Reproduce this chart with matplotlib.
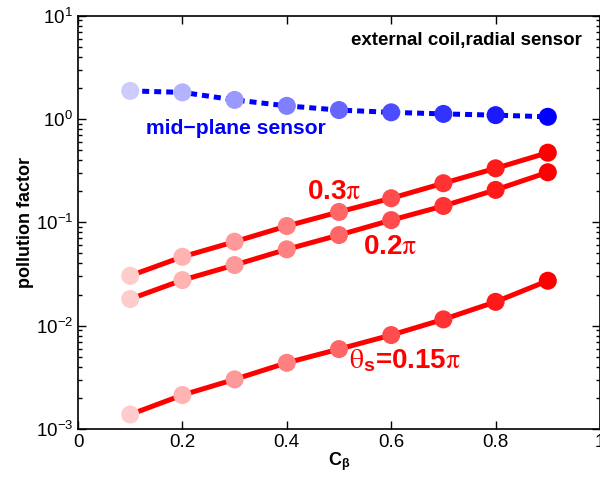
import numpy as np
import matplotlib
matplotlib.use("Agg")
import matplotlib.pyplot as plt
from matplotlib.ticker import LogLocator, NullFormatter, LogFormatterSciNotation

plt.rcParams['font.family'] = ['Liberation Sans', 'DejaVu Sans']
plt.rcParams['mathtext.fontset'] = 'stix'

c_beta = [0.1, 0.2, 0.3, 0.4, 0.5, 0.6, 0.7, 0.8, 0.9]
mid_plane = [1.87, 1.81, 1.53, 1.34, 1.22, 1.16, 1.12, 1.09, 1.05]
theta_03 = [0.0304, 0.0464, 0.0649, 0.0921, 0.126, 0.171, 0.239, 0.333, 0.472]
theta_02 = [0.0181, 0.0276, 0.0386, 0.0548, 0.0753, 0.105, 0.144, 0.206, 0.305]
theta_015 = [0.00138, 0.00213, 0.00302, 0.00437, 0.00593, 0.00811, 0.0115, 0.0170, 0.0272]
shade = [0.2, 0.3, 0.4, 0.5, 0.6, 0.7, 0.8, 0.9, 1.0]

fig = plt.figure(figsize=(6.0, 4.82), dpi=100)
ax = fig.add_axes([0.13, 0.110, 0.87, 0.8575])

red_cols = [(1.0, 1 - a, 1 - a) for a in shade]
blue_cols = [(1 - a, 1 - a, 1.0) for a in shade]

for ys in (theta_03, theta_02, theta_015):
    ax.plot(c_beta, ys, '-', color='red', lw=3.6, zorder=2, solid_capstyle='butt')
    ax.scatter(c_beta, ys, s=13**2, c=red_cols, edgecolors='none', zorder=3)

ax.plot(c_beta, mid_plane, color='blue', lw=3.6, ls=(0, (1.4, 1.0)), zorder=2)
ax.scatter(c_beta, mid_plane, s=13**2, c=blue_cols, edgecolors='none', zorder=3)

ax.set_yscale('log')
ax.set_xlim(0, 1)
ax.set_ylim(1e-3, 10)
ax.set_xticks([0, 0.2, 0.4, 0.6, 0.8, 1.0])
ax.set_xticklabels(['0', '0.2', '0.4', '0.6', '0.8', '1'])
ax.yaxis.set_major_locator(LogLocator(base=10, numticks=10))
ax.yaxis.set_major_formatter(LogFormatterSciNotation())
ax.yaxis.set_minor_locator(LogLocator(base=10, subs=np.arange(2, 10), numticks=20))
ax.yaxis.set_minor_formatter(NullFormatter())
ax.tick_params(which='both', direction='in', top=True, right=True, labelsize=13.5, width=1)
ax.tick_params(which='major', length=6)
ax.tick_params(which='minor', length=3)
for s in ax.spines.values():
    s.set_linewidth(1.2)

ax.set_ylabel('pollution factor', fontsize=13, fontweight='bold')
ax.yaxis.set_label_coords(-0.085, 0.5)
ax.set_xlabel(r'C$_{\mathdefault{\beta}}$', fontsize=13, fontweight='bold', labelpad=0)

ax.text(0.9655, 0.9395, 'external coil,radial sensor', transform=ax.transAxes,
        ha='right', va='center', fontsize=13.5, fontweight='bold')
ax.text(0.13, 0.727, 'mid\u2212plane sensor', transform=ax.transAxes,
        ha='left', va='center', fontsize=15.2, fontweight='bold', color='blue')
ax.text(0.4387, 0.574, r'0.3$\mathrm{\pi}$', transform=ax.transAxes,
        ha='left', va='center', fontsize=20, fontweight='bold', color='red')
ax.text(0.5454, 0.441, r'0.2$\mathrm{\pi}$', transform=ax.transAxes,
        ha='left', va='center', fontsize=20, fontweight='bold', color='red')
ax.text(0.519, 0.165, r'$\mathrm{\theta}_{\mathdefault{s}}$=0.15$\mathrm{\pi}$', transform=ax.transAxes,
        ha='left', va='center', fontsize=20, fontweight='bold', color='red')

fig.savefig('out.png', dpi=100)
